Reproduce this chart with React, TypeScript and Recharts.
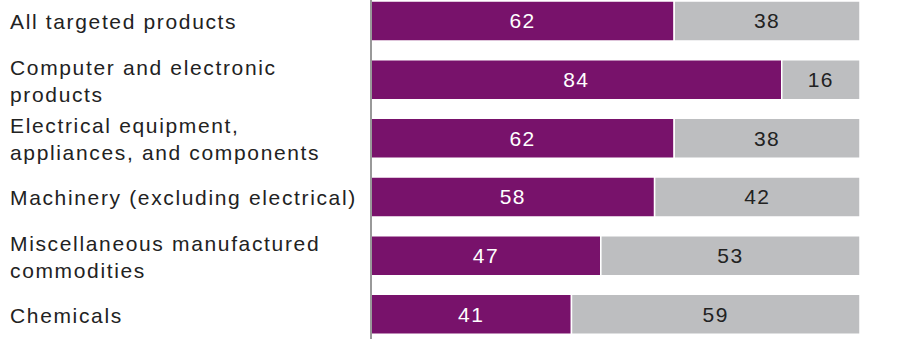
import { BarChart, Bar, XAxis, YAxis, LabelList } from 'recharts';

const CATEGORIES = [
  'All targeted products',
  'Computer and electronic|products',
  'Electrical equipment,|appliances, and components',
  'Machinery (excluding electrical)',
  'Miscellaneous manufactured|commodities',
  'Chemicals',
];
const SHARE_A = [62, 84, 62, 58, 47, 41];
const SHARE_B = [38, 16, 38, 42, 53, 59];

const PURPLE = '#78126B';
const GRAY = '#BDBEC0';
const FONT = '"Liberation Sans", Arial, Helvetica, sans-serif';

const data = CATEGORIES.map((name, i) => ({ name, a: SHARE_A[i], b: SHARE_B[i] }));

function CategoryTick(props: any) {
  const { y, payload } = props;
  const lines: string[] = String(payload.value).split('|');
  const lh = 27;
  const start = -((lines.length - 1) * lh) / 2;
  return (
    <text
      x={10}
      y={y}
      textAnchor="start"
      fill="#222"
      fontSize={21}
      letterSpacing={1.65}
      fontFamily={FONT}
      dominantBaseline="central"
    >
      {lines.map((l, i) => (
        <tspan key={i} x={10} y={y + start + i * lh}>
          {l}
        </tspan>
      ))}
    </text>
  );
}

export default function App() {
  return (
    <div style={{ position: 'absolute', left: 0, top: 0, width: 898, height: 339, background: '#fff' }}>
      <BarChart
        width={898}
        height={339}
        data={data}
        layout="vertical"
        margin={{ top: -8, right: 38, bottom: -5, left: 0 }}
        barSize={40}
      >
        <XAxis type="number" domain={[0, 100]} hide />
        <YAxis
          type="category"
          dataKey="name"
          width={371}
          tick={<CategoryTick />}
          tickLine={false}
          axisLine={{ stroke: '#999', strokeWidth: 2 }}
          interval={0}
        />
        <Bar dataKey="a" stackId="s" fill={PURPLE} stroke="#fff" strokeWidth={1.5} isAnimationActive={false}>
          <LabelList dataKey="a" position="center" fill="#fff" fontSize={21} letterSpacing={1.5} fontFamily={FONT} />
        </Bar>
        <Bar dataKey="b" stackId="s" fill={GRAY} stroke="#fff" strokeWidth={1.5} isAnimationActive={false}>
          <LabelList dataKey="b" position="center" fill="#222" fontSize={21} letterSpacing={1.5} fontFamily={FONT} />
        </Bar>
      </BarChart>
    </div>
  );
}
